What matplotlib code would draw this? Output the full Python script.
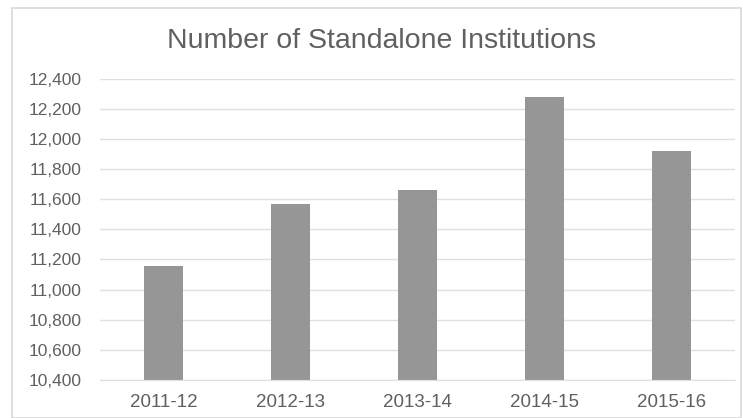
import matplotlib.pyplot as plt
from matplotlib.patches import Rectangle
from matplotlib.ticker import FuncFormatter

plt.rcParams['font.family'] = ['Liberation Sans', 'DejaVu Sans']

years = ["2011-12", "2012-13", "2013-14", "2014-15", "2015-16"]
institutions = [11157, 11565, 11664, 12276, 11922]

W, H = 743, 418
fig = plt.figure(figsize=(W / 100, H / 100), dpi=100)
ax = fig.add_axes([100 / W, (H - 380) / H, 635 / W, (380 - 78.7) / H])

ax.bar(range(len(years)), institutions, width=0.305, color="#969696", zorder=2)
ax.set_ylim(10400, 12400)
ax.set_xlim(-0.5, len(years) - 0.5)
ax.set_yticks(range(10400, 12401, 200))
ax.yaxis.set_major_formatter(FuncFormatter(lambda v, p: f"{int(v):,}"))
ax.set_xticks(range(len(years)))
ax.set_xticklabels(years)

ax.grid(axis="y", color="#e0e0e0", linewidth=1, zorder=0)
for s in ["top", "right", "left"]:
    ax.spines[s].set_visible(False)
ax.spines["bottom"].set_color("#e0e0e0")
ax.tick_params(length=0, colors="#606060")
ax.tick_params(axis="y", pad=13, labelsize=12.5)
ax.tick_params(axis="x", pad=10, labelsize=13.5)

fig.text(382 / W, 1 - 41 / H, "Number of Standalone Institutions",
         ha="center", va="center", fontsize=20.5, color="#606060")

# outer chart border
fig.patches.append(Rectangle((12 / W, 0), (741 - 12) / W, (H - 8) / H,
                             transform=fig.transFigure, fill=False,
                             edgecolor="#d9d9d9", linewidth=1.2))

fig.savefig("out.png", dpi=100)
